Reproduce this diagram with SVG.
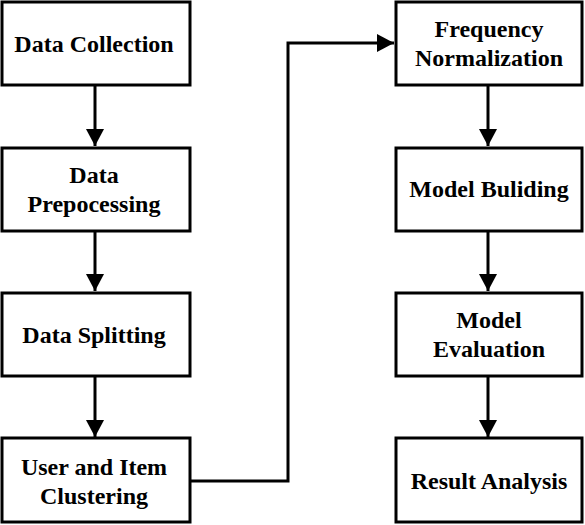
<svg xmlns="http://www.w3.org/2000/svg" width="585" height="525" viewBox="0 0 585 525">
<defs>
<marker id="ah" markerWidth="17" markerHeight="18" refX="17" refY="9" orient="auto" markerUnits="userSpaceOnUse">
<path d="M0,0 L17,9 L0,18 Z" fill="#000"/>
</marker>
<style>
.box{fill:#fff;stroke:#000;stroke-width:3}
.t{font-family:"Liberation Serif","Times New Roman",serif;font-weight:bold;font-size:24px;text-anchor:middle;fill:#000}
.c{fill:none;stroke:#000;stroke-width:3}
</style>
</defs>
<g id="connectors">
<line class="c" x1="95" y1="85" x2="95" y2="146" marker-end="url(#ah)"/>
<line class="c" x1="95" y1="231" x2="95" y2="291" marker-end="url(#ah)"/>
<line class="c" x1="95" y1="376" x2="95" y2="437" marker-end="url(#ah)"/>
<polyline class="c" points="191,481 288,481 288,43 394,43" marker-end="url(#ah)"/>
<line class="c" x1="488" y1="85" x2="488" y2="146" marker-end="url(#ah)"/>
<line class="c" x1="488" y1="231" x2="488" y2="291" marker-end="url(#ah)"/>
<line class="c" x1="488" y1="376" x2="488" y2="437" marker-end="url(#ah)"/>
</g>
<g id="n1"><rect class="box" x="2" y="2" width="188" height="83"/><text class="t" x="94" y="52">Data Collection</text></g>
<g id="n2"><rect class="box" x="2" y="148" width="188" height="83"/><text class="t" x="94" y="183">Data</text><text class="t" x="94" y="212">Prepocessing</text></g>
<g id="n3"><rect class="box" x="2" y="293" width="188" height="83"/><text class="t" x="94" y="343">Data Splitting</text></g>
<g id="n4"><rect class="box" x="2" y="438" width="188" height="84"/><text class="t" x="94" y="475">User and Item</text><text class="t" x="94" y="504">Clustering</text></g>
<g id="n5"><rect class="box" x="396" y="2" width="186" height="83"/><text class="t" x="489" y="37">Frequency</text><text class="t" x="489" y="66">Normalization</text></g>
<g id="n6"><rect class="box" x="396" y="148" width="186" height="83"/><text class="t" x="489" y="197">Model Buliding</text></g>
<g id="n7"><rect class="box" x="396" y="293" width="186" height="83"/><text class="t" x="489" y="328">Model</text><text class="t" x="489" y="357">Evaluation</text></g>
<g id="n8"><rect class="box" x="396" y="438" width="186" height="84"/><text class="t" x="489" y="489">Result Analysis</text></g>
</svg>
